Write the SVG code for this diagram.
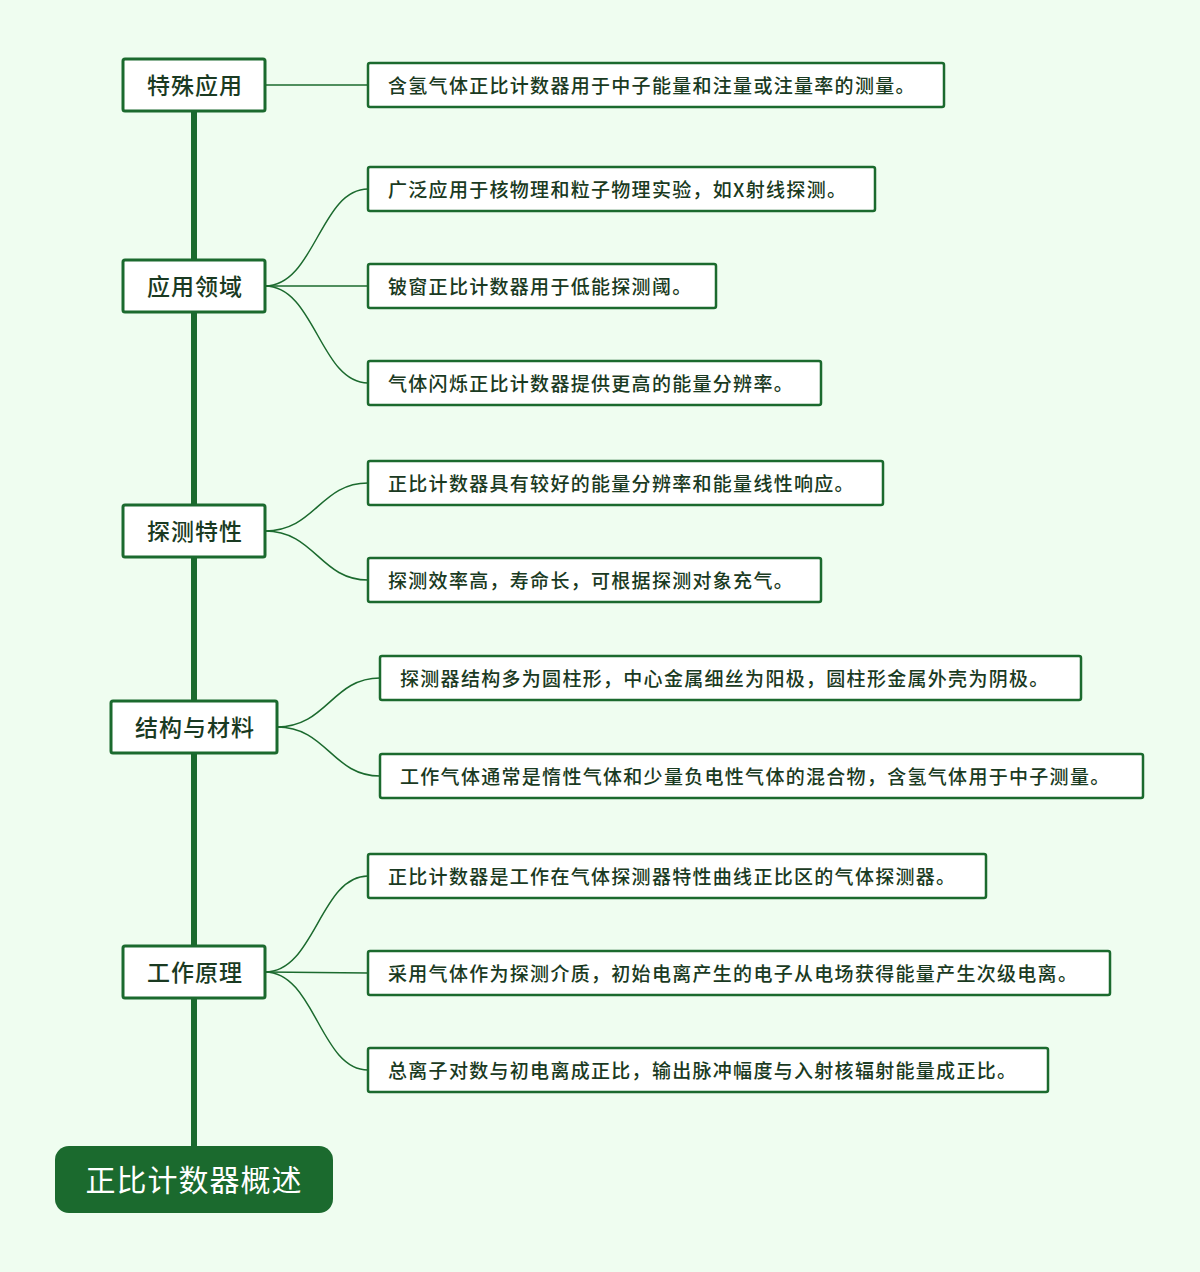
<svg xmlns="http://www.w3.org/2000/svg" width="1200" height="1272" viewBox="0 0 1200 1272">
<style>
.cat{fill:#fff;stroke:#1b6a2e;stroke-width:3}
.leaf{fill:#fff;stroke:#1b6a2e;stroke-width:2.5}
.ct{font-family:"Noto Sans CJK SC","Noto Sans",sans-serif;font-size:23px;font-weight:500;letter-spacing:1px;fill:#1a3a22;text-anchor:middle;dominant-baseline:central}
.lt{font-family:"Noto Sans CJK SC","Noto Sans",sans-serif;font-size:19px;font-weight:500;letter-spacing:1.3px;fill:#1a3a22;dominant-baseline:central}
.c{fill:none;stroke:#1b6a2e;stroke-width:1.5}
</style>
<rect width="1200" height="1272" fill="#effdf0"/>
<g id="connectors">
<line x1="194" y1="110" x2="194" y2="1150" stroke="#1b6a2e" stroke-width="6"/>
<path class="c" d="M265,85 L368,85"/>
<path class="c" d="M265,286 C315,286 320,189 368,189"/>
<path class="c" d="M265,286 L368,286"/>
<path class="c" d="M265,286 C315,286 320,383 368,383"/>
<path class="c" d="M265,531 C315,531 320,483 368,483"/>
<path class="c" d="M265,531 C315,531 320,580 368,580"/>
<path class="c" d="M277,727 C327,727 332,678 380,678"/>
<path class="c" d="M277,727 C327,727 332,776 380,776"/>
<path class="c" d="M265,972 C315,972 320,876 368,876"/>
<path class="c" d="M265,972 L368,973"/>
<path class="c" d="M265,972 C315,972 320,1070 368,1070"/>
</g>
<g id="root"><rect x="55" y="1146" width="278" height="67" rx="14" fill="#1b6a2e"/><text x="194" y="1178" class="ct" style="fill:#fff;font-size:30px;font-weight:400">正比计数器概述</text></g>
<g id="c1"><rect class="cat" x="123" y="59" width="142" height="52" rx="2"/><text class="ct" x="195" y="84">特殊应用</text></g>
<g id="c2"><rect class="cat" x="123" y="260" width="142" height="52" rx="2"/><text class="ct" x="195" y="285">应用领域</text></g>
<g id="c3"><rect class="cat" x="123" y="505" width="142" height="52" rx="2"/><text class="ct" x="195" y="530">探测特性</text></g>
<g id="c4"><rect class="cat" x="111" y="701" width="166" height="52" rx="2"/><text class="ct" x="195" y="726">结构与材料</text></g>
<g id="c5"><rect class="cat" x="123" y="946" width="142" height="52" rx="2"/><text class="ct" x="195" y="971">工作原理</text></g>
<g id="l1"><rect class="leaf" x="368" y="63" width="576" height="44" rx="2"/><text class="lt" x="388" y="84">含氢气体正比计数器用于中子能量和注量或注量率的测量。</text></g>
<g id="l2"><rect class="leaf" x="368" y="167" width="507" height="44" rx="2"/><text class="lt" x="388" y="188">广泛应用于核物理和粒子物理实验，如X射线探测。</text></g>
<g id="l3"><rect class="leaf" x="368" y="264" width="348" height="44" rx="2"/><text class="lt" x="388" y="285">铍窗正比计数器用于低能探测阈。</text></g>
<g id="l4"><rect class="leaf" x="368" y="361" width="453" height="44" rx="2"/><text class="lt" x="388" y="382">气体闪烁正比计数器提供更高的能量分辨率。</text></g>
<g id="l5"><rect class="leaf" x="368" y="461" width="515" height="44" rx="2"/><text class="lt" x="388" y="482">正比计数器具有较好的能量分辨率和能量线性响应。</text></g>
<g id="l6"><rect class="leaf" x="368" y="558" width="453" height="44" rx="2"/><text class="lt" x="388" y="579">探测效率高，寿命长，可根据探测对象充气。</text></g>
<g id="l7"><rect class="leaf" x="380" y="656" width="701" height="44" rx="2"/><text class="lt" x="400" y="677">探测器结构多为圆柱形，中心金属细丝为阳极，圆柱形金属外壳为阴极。</text></g>
<g id="l8"><rect class="leaf" x="380" y="754" width="763" height="44" rx="2"/><text class="lt" x="400" y="775">工作气体通常是惰性气体和少量负电性气体的混合物，含氢气体用于中子测量。</text></g>
<g id="l9"><rect class="leaf" x="368" y="854" width="618" height="44" rx="2"/><text class="lt" x="388" y="875">正比计数器是工作在气体探测器特性曲线正比区的气体探测器。</text></g>
<g id="l10"><rect class="leaf" x="368" y="951" width="742" height="44" rx="2"/><text class="lt" x="388" y="972">采用气体作为探测介质，初始电离产生的电子从电场获得能量产生次级电离。</text></g>
<g id="l11"><rect class="leaf" x="368" y="1048" width="680" height="44" rx="2"/><text class="lt" x="388" y="1069">总离子对数与初电离成正比，输出脉冲幅度与入射核辐射能量成正比。</text></g>
</svg>
